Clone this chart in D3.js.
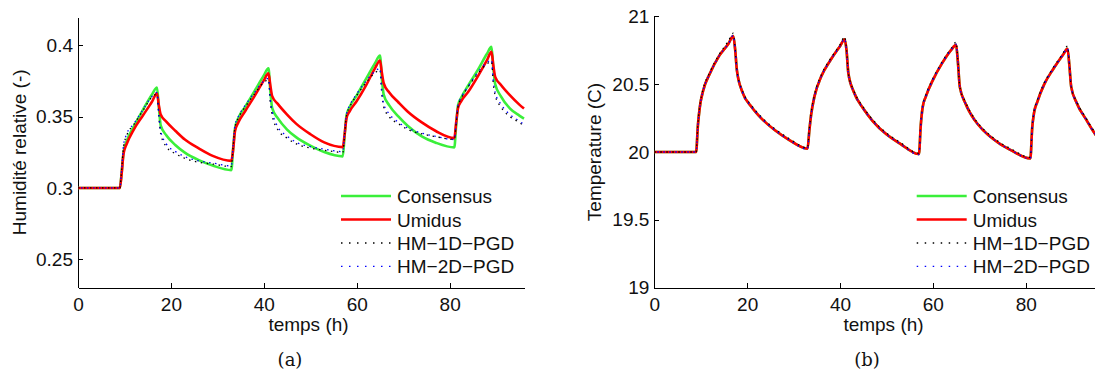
<!DOCTYPE html>
<html>
<head>
<meta charset="utf-8">
<script src="https://cdnjs.cloudflare.com/ajax/libs/d3/7.8.5/d3.min.js"></script>
<style>
  html, body { margin: 0; padding: 0; background: #fff; }
  svg { display: block; }
  text { font-family: "Liberation Sans", Arial, sans-serif; fill: #111; }
</style>
</head>
<body>
<svg id="chart" width="1095" height="373"></svg>
<script>
// ---------- DATA ----------
const times = [0, 9, 9.4, 9.8, 10.5, 12, 14, 16, 17, 17.4, 17.8, 19, 21, 23, 26, 29,
  33, 33.4, 33.8, 34.5, 36, 38, 40, 41, 41.4, 41.8, 43, 45, 47, 50, 53,
  57, 57.4, 57.8, 58.5, 60, 62, 64, 65, 65.4, 65.8, 67, 69, 71, 74, 77,
  81, 81.4, 81.8, 82.5, 84, 86, 88, 89, 89.4, 89.8, 91, 93, 95, 96];

const seriesNames = ["Consensus", "Umidus", "HM\u22121D\u2212PGD", "HM\u22122D\u2212PGD"];

// (a) relative humidity
const rhConsensus = [0.300, 0.300, 0.311, 0.325, 0.333, 0.343, 0.355, 0.366, 0.3705, 0.357, 0.344, 0.337, 0.330, 0.3248, 0.3195, 0.3157,
  0.3125, 0.328, 0.342, 0.349, 0.357, 0.368, 0.379, 0.384, 0.368, 0.356, 0.349, 0.341, 0.3355, 0.3297, 0.3252,
  0.3222, 0.337, 0.351, 0.357, 0.365, 0.3765, 0.388, 0.393, 0.377, 0.3655, 0.358, 0.350, 0.3435, 0.3362, 0.3318,
  0.3285, 0.344, 0.358, 0.3635, 0.372, 0.3825, 0.394, 0.399, 0.384, 0.373, 0.3645, 0.3557, 0.3508, 0.3487];
const rhUmidus = [0.300, 0.300, 0.310, 0.324, 0.331, 0.341, 0.351, 0.361, 0.3665, 0.358, 0.3515, 0.3465, 0.340, 0.334, 0.3278, 0.3225,
  0.319, 0.327, 0.340, 0.346, 0.354, 0.3645, 0.3755, 0.3805, 0.372, 0.3645, 0.359, 0.3515, 0.345, 0.3378, 0.332,
  0.3287, 0.338, 0.349, 0.354, 0.361, 0.372, 0.3845, 0.3895, 0.381, 0.3735, 0.367, 0.360, 0.3535, 0.346, 0.340,
  0.335, 0.346, 0.356, 0.361, 0.3675, 0.378, 0.3895, 0.3955, 0.386, 0.378, 0.3725, 0.365, 0.3585, 0.3557];
const rhHM1D = [0.300, 0.300, 0.313, 0.329, 0.337, 0.3445, 0.3545, 0.364, 0.366, 0.350, 0.338, 0.329, 0.324, 0.3208, 0.318, 0.3168,
  0.315, 0.329, 0.343, 0.349, 0.357, 0.366, 0.374, 0.376, 0.360, 0.351, 0.341, 0.335, 0.331, 0.328, 0.3265,
  0.325, 0.338, 0.351, 0.357, 0.365, 0.374, 0.381, 0.383, 0.366, 0.357, 0.350, 0.345, 0.341, 0.338, 0.336,
  0.334, 0.345, 0.357, 0.363, 0.371, 0.380, 0.387, 0.389, 0.373, 0.365, 0.357, 0.350, 0.346, 0.3435];
const rhHM2D = [0.300, 0.300, 0.313, 0.330, 0.338, 0.345, 0.355, 0.3645, 0.367, 0.352, 0.340, 0.331, 0.3255, 0.322, 0.319, 0.3175,
  0.3155, 0.330, 0.344, 0.350, 0.358, 0.367, 0.375, 0.377, 0.362, 0.354, 0.343, 0.3365, 0.332, 0.329, 0.3272,
  0.3255, 0.339, 0.352, 0.358, 0.366, 0.375, 0.382, 0.384, 0.368, 0.359, 0.352, 0.346, 0.342, 0.3385, 0.3362,
  0.334, 0.346, 0.358, 0.3635, 0.3715, 0.381, 0.388, 0.390, 0.375, 0.367, 0.359, 0.3515, 0.347, 0.3445];

// (b) temperature
const tConsensus = [20, 20, 20.20, 20.33, 20.45, 20.58, 20.71, 20.80, 20.855, 20.76, 20.60, 20.44, 20.33, 20.25, 20.16, 20.09,
  20.025, 20.16, 20.28, 20.41, 20.56, 20.68, 20.78, 20.83, 20.75, 20.58, 20.44, 20.32, 20.23, 20.13, 20.06,
  19.985, 20.20, 20.33, 20.41, 20.53, 20.655, 20.755, 20.79, 20.66, 20.48, 20.36, 20.235, 20.155, 20.07, 20.01,
  19.953, 20.18, 20.29, 20.37, 20.50, 20.615, 20.715, 20.76, 20.64, 20.48, 20.36, 20.24, 20.13, 20.09];
const tUmidus = [20, 20, 20.20, 20.33, 20.45, 20.58, 20.71, 20.80, 20.855, 20.76, 20.60, 20.44, 20.33, 20.25, 20.16, 20.09,
  20.025, 20.16, 20.28, 20.41, 20.56, 20.68, 20.78, 20.83, 20.75, 20.58, 20.44, 20.32, 20.23, 20.13, 20.06,
  19.985, 20.20, 20.33, 20.41, 20.53, 20.655, 20.755, 20.79, 20.66, 20.48, 20.36, 20.235, 20.155, 20.07, 20.01,
  19.953, 20.18, 20.29, 20.37, 20.50, 20.615, 20.715, 20.76, 20.64, 20.48, 20.36, 20.24, 20.13, 20.09];
const tHM1D = [20, 20, 20.21, 20.34, 20.46, 20.59, 20.72, 20.82, 20.875, 20.77, 20.60, 20.45, 20.34, 20.26, 20.17, 20.10,
  20.03, 20.17, 20.29, 20.42, 20.57, 20.69, 20.79, 20.85, 20.76, 20.58, 20.45, 20.33, 20.24, 20.14, 20.07,
  19.99, 20.21, 20.34, 20.42, 20.54, 20.665, 20.765, 20.81, 20.67, 20.48, 20.37, 20.245, 20.165, 20.08, 20.02,
  19.96, 20.19, 20.30, 20.38, 20.51, 20.625, 20.725, 20.78, 20.65, 20.48, 20.37, 20.25, 20.14, 20.10];
const tHM2D = [20, 20, 20.20, 20.33, 20.45, 20.58, 20.71, 20.80, 20.86, 20.76, 20.60, 20.44, 20.33, 20.25, 20.16, 20.09,
  20.02, 20.16, 20.28, 20.41, 20.56, 20.68, 20.78, 20.835, 20.75, 20.58, 20.44, 20.32, 20.23, 20.13, 20.06,
  19.98, 20.20, 20.33, 20.41, 20.53, 20.655, 20.755, 20.795, 20.66, 20.48, 20.36, 20.235, 20.155, 20.07, 20.01,
  19.95, 20.18, 20.29, 20.37, 20.50, 20.615, 20.715, 20.765, 20.64, 20.48, 20.36, 20.24, 20.13, 20.09];

const xTicks = [0, 20, 40, 60, 80];
const rhTicks = [0.25, 0.3, 0.35, 0.4];
const rhTickLabels = ["0.25", "0.3", "0.35", "0.4"];
const tTicks = [19, 19.5, 20, 20.5, 21];
const tTickLabels = ["19", "19.5", "20", "20.5", "21"];

// ---------- STYLES ----------
const styles = [
  { color: "#3aef3a", width: 2.6, dash: null, offset: 0 },
  { color: "#ff0000", width: 2.6, dash: null, offset: 0 },
  { color: "#000000", width: 1.3, dash: "1.5,4.5", offset: 0 },
  { color: "#0000ff", width: 1.3, dash: "1.5,4.5", offset: 3 }
];

const svg = d3.select("#chart");
const FONT = 19;

function panel(cfg) {
  const x = d3.scaleLinear().domain([0, 96]).range([cfg.x0, cfg.x1]);
  const y = d3.scaleLinear().domain(cfg.yDomain).range([cfg.yBottom, cfg.yTop]);
  const g = svg.append("g");

  const xAxis = d3.axisBottom(x).tickValues(xTicks).tickFormat(d3.format("d"))
    .tickSizeInner(-5).tickSizeOuter(0).tickPadding(10);
  const yAxis = d3.axisLeft(y).tickValues(cfg.yTicks).tickFormat((d, i) => cfg.yLabels[i])
    .tickSizeInner(-5).tickSizeOuter(0).tickPadding(5);

  const gx = g.append("g").attr("transform", `translate(0,${cfg.yBottom})`).call(xAxis);
  const gy = g.append("g").attr("transform", `translate(${cfg.x0},0)`).call(yAxis);
  [gx, gy].forEach(a => {
    a.selectAll("path.domain").attr("stroke", "#000").attr("stroke-width", 1).attr("shape-rendering", "crispEdges");
    a.selectAll(".tick line").attr("stroke", "#000").attr("shape-rendering", "crispEdges");
    a.selectAll(".tick text").attr("font-size", FONT).attr("font-family", "Liberation Sans, Arial, sans-serif").attr("fill", "#111");
  });

  const line = d3.line().x((d, i) => x(times[i])).y(d => y(d)).curve(d3.curveMonotoneX);
  cfg.series.forEach((s, k) => {
    const st = styles[k];
    const p = g.append("path").datum(s).attr("d", line)
      .attr("fill", "none").attr("stroke", st.color).attr("stroke-width", st.width)
      .attr("stroke-linejoin", "miter");
    if (st.dash) p.attr("stroke-dasharray", st.dash).attr("stroke-dashoffset", st.offset);
  });

  g.append("text").attr("x", cfg.xLabelX).attr("y", 331).attr("text-anchor", "middle")
    .attr("font-size", FONT).text("temps (h)");
  g.append("text").attr("transform", `translate(${cfg.yLabelX},${(cfg.yTop + cfg.yBottom) / 2}) rotate(-90)`)
    .attr("text-anchor", "middle").attr("font-size", FONT).text(cfg.yLabel);

  const rows = [196, 219.5, 243, 266.3];
  seriesNames.forEach((name, k) => {
    const st = styles[k];
    const l = g.append("line").attr("x1", cfg.legX).attr("x2", cfg.legX + 50)
      .attr("y1", rows[k]).attr("y2", rows[k])
      .attr("stroke", st.color).attr("stroke-width", st.width);
    if (st.dash) l.attr("stroke-dasharray", "1.5,6.5").attr("stroke-dashoffset", 0);
    g.append("text").attr("x", cfg.legX + 56).attr("y", rows[k] + 7)
      .attr("font-size", FONT).text(name);
  });

  g.append("text").attr("x", cfg.capX).attr("y", 366).attr("text-anchor", "middle")
    .attr("font-size", 18)
    .style("font-family", "'DejaVu Serif', serif").text(cfg.caption);
}

panel({
  x0: 78, x1: 524, yBottom: 287.7, yTop: 17, yDomain: [0.23, 0.42],
  yTicks: rhTicks, yLabels: rhTickLabels,
  series: [rhConsensus, rhUmidus, rhHM1D, rhHM2D],
  yLabel: "Humidité relative (-)", yLabelX: 25.5, xLabelX: 308.5,
  legX: 341, capX: 290, caption: "(a)"
});
panel({
  x0: 654.3, x1: 1100, yBottom: 287.7, yTop: 16.3, yDomain: [19, 21],
  yTicks: tTicks, yLabels: tTickLabels,
  series: [tConsensus, tUmidus, tHM1D, tHM2D],
  yLabel: "Temperature (C)", yLabelX: 601, xLabelX: 883.5,
  legX: 916.7, capX: 867, caption: "(b)"
});
</script>
</body>
</html>
